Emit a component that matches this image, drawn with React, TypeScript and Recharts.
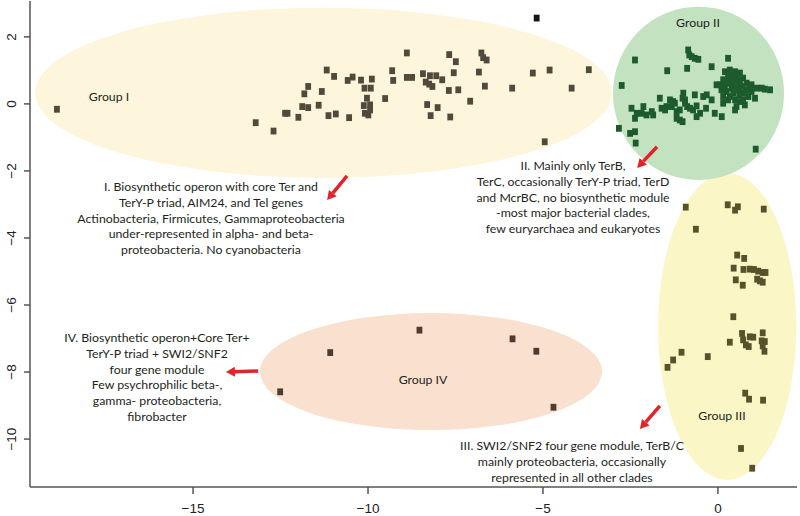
import { ScatterChart, Scatter, XAxis, YAxis, ReferenceArea, ReferenceLine } from 'recharts'

// point clouds (x, y)
const groupOne: [number, number][] = [
  [-18.89, -0.16], [-13.21, -0.56], [-12.7, -0.81], [-12.37, -0.28], [-12.3, -0.28], [-11.99, -0.4],
  [-11.82, 0.3], [-11.71, 0.52], [-11.88, -0.08], [-11.71, -0.11], [-11.41, -0.04], [-11.32, 0.37],
  [-11.18, 1.01], [-10.97, 0.82], [-11.13, -0.35], [-10.92, -0.3], [-10.58, 0.7], [-10.44, 0.8],
  [-10.54, -0.41], [-10.2, 0.71], [-10.1, 0.47], [-9.92, 0.47], [-9.89, 0.74], [-10.03, 0.17],
  [-10.12, -0.05], [-9.94, -0.03], [-10.09, -0.28], [-9.99, -0.33], [-9.94, -0.18], [-9.51, 0.16],
  [-9.31, 0.99], [-9.28, 0.7], [-8.89, 1.52], [-8.89, 0.79], [-8.74, 0.79], [-8.43, 0.9],
  [-8.23, 0.84], [-8.35, 0.65], [-8.25, 0.59], [-8.16, 0.52], [-8.05, 0.84], [-7.88, 0.72],
  [-7.68, 1.47], [-7.49, 1.26], [-7.55, 0.93], [-7.69, 0.4], [-7.42, 0.42], [-8.31, -0.02],
  [-8.01, -0.11], [-8.21, -0.35], [-7.65, -0.39], [-7.08, 0.08], [-6.76, 1.52], [-6.71, 1.38],
  [-6.61, 1.31], [-6.83, 0.95], [-6.66, 0.53], [-5.88, 0.47], [-5.29, 0.92], [-4.81, 1.01],
  [-4.18, 0.47], [-3.69, 1.02], [-4.95, -1.13],
]
const outlier: [number, number][] = [[-5.18, 2.56]]

const groupTwo: [number, number][] = [
  // dense core
  [0.2, 0.96], [0.34, 1.01], [0.49, 0.96], [0.63, 0.92], [0.06, 0.57], [0.15, 0.72], [0.29, 0.77],
  [0.44, 0.72], [0.58, 0.72], [0.72, 0.77], [0.82, 0.62], [0.96, 0.57], [1.11, 0.47], [1.25, 0.47],
  [1.34, 0.44], [1.49, 0.42], [0.25, 0.37], [0.39, 0.47], [0.53, 0.52], [0.68, 0.52], [0.82, 0.42],
  [0.96, 0.37], [1.06, 0.17], [0.34, 0.22], [0.49, 0.12], [0.63, 0.07], [0.77, -0.03], [0.53, -0.08],
  [0.49, -0.18], [0.15, 0.02], [0.15, 0.22], [-0.04, 0.57], [0.2, 0.52], [0.39, 0.62], [0.72, 0.32],
  [0.87, 0.22], [0.61, 0.27], [0.44, 0.87], [0.25, 0.62], [0.63, 0.62], [0.44, 0.32], [0.29, 0.12],
  [0.91, 0.47], [0.58, 0.42], [0.34, 0.87], [0.53, 0.82], [0.1, 0.42], [0.72, 0.12],
  // left arm
  [-1.66, 0.17], [-1.51, -0.18], [-1.37, 0.12], [-1.32, -0.08], [-1.23, 0.02], [-1.18, -0.23],
  [-1.09, -0.18], [-1.01, 0.17], [-0.99, 0.32], [-0.94, 0.02], [-0.88, -0.08], [-0.8, -0.13],
  [-0.71, -0.18], [-0.61, -0.06], [-0.51, -0.28], [-0.42, 0.22], [-0.32, 0.27], [-0.18, 0.12],
  [-0.34, -0.13], [-0.09, -0.28], [0.11, -0.38], [-0.61, -0.38], [-1.09, -0.48], [-1.01, -0.53],
  [-1.18, -0.43], [-2.13, -0.08], [-2.18, -0.28], [-2.04, -0.33], [-2.32, -0.28], [-2.37, -0.43],
  [-2.47, -0.13], [-1.85, -0.33], [-1.89, -0.23], [-1.61, -0.13], [-1.47, -0.08], [-0.66, 0.27],
  [-0.94, 0.12], [-1.28, 0.07],
  // scattered
  [-2.83, -0.73], [-2.51, -0.88], [-2.37, -0.83], [-2.35, -1.17], [1.08, -1.35], [-2.37, 1.31],
  [-2.75, 0.55], [-1.45, 0.99], [-0.88, 1.06], [-0.85, 1.61], [-0.82, 1.46], [-0.75, 1.41],
  [-0.66, 1.36], [-0.56, 1.33], [-0.18, 1.11], [0.29, 1.36],
]

const groupThree: [number, number][] = [
  [-0.92, -3.08], [0.28, -3.01], [0.49, -3.17], [0.57, -3.07], [1.31, -3.14], [-0.63, -3.74],
  [0.55, -4.51], [0.75, -4.61], [0.45, -4.9], [0.73, -4.94], [0.91, -4.93], [1.03, -4.94],
  [1.15, -4.99], [1.28, -5.03], [1.36, -5.03], [0.51, -5.25], [0.71, -5.41], [1.12, -5.23],
  [1.2, -5.28], [1.28, -5.32], [0.44, -6.35], [0.34, -7.11], [0.69, -6.85], [0.72, -7.04],
  [0.8, -7.19], [0.88, -7.24], [0.91, -6.95], [1.01, -6.96], [1.28, -6.83], [1.25, -7.07],
  [1.34, -7.09], [1.33, -7.38], [1.28, -7.22], [-1.04, -7.41], [-1.28, -7.64], [-1.44, -7.86],
  [-0.29, -7.54], [0.78, -8.63], [0.89, -8.81], [1.29, -8.84], [0.66, -10.28], [0.98, -10.87],
]

const groupFour: [number, number][] = [
  [-12.51, -8.59], [-11.08, -7.42], [-8.53, -6.75], [-5.87, -7.01], [-5.19, -7.38], [-4.7, -9.05],
]

// ellipses: [x1, x2, y1, y2, fill]
const ellipses: [number, number, number, number, string][] = [
  [-19.51, -3.03, -2.21, 2.87, '#fdf6dc'],
  [-1.71, 2.24, -11.22, -2.06, '#faf6c6'],
  [-13.09, -3.31, -9.73, -6.24, '#fae0cf'],
  [-3.0, 1.89, -2.27, 2.9, '#c2e2c0'],
]

// arrows: from -> to
const arrows: [number, number, number, number][] = [
  [-10.6, -2.15, -11.17, -2.87],
  [-1.74, -1.28, -2.31, -1.91],
  [-13.14, -7.97, -14.06, -8.0],
  [-1.66, -9.01, -2.23, -9.7],
]

const xTicks = [-15, -10, -5, 0]
const yTicks = [2, 0, -2, -4, -6, -8, -10]

const notes = [
  { left: 211, top: 179, lines: ['I. Biosynthetic operon with core Ter and', 'TerY-P triad, AIM24, and Tel genes', 'Actinobacteria, Firmicutes, Gammaproteobacteria', 'under-represented in alpha- and beta-', 'proteobacteria. No cyanobacteria'] },
  { left: 573, top: 158, lines: ['II. Mainly only TerB,', 'TerC, occasionally TerY-P triad, TerD', 'and McrBC, no biosynthetic module', '-most major bacterial clades,', 'few euryarchaea and eukaryotes'] },
  { left: 157, top: 330, lines: ['IV. Biosynthetic operon+Core Ter+', 'TerY-P triad + SWI2/SNF2', 'four gene module', 'Few psychrophilic beta-,', 'gamma- proteobacteria,', 'fibrobacter'] },
  { left: 572, top: 438, lines: ['III. SWI2/SNF2 four gene module, TerB/C', 'mainly proteobacteria, occasionally', 'represented in all other clades'] },
  { left: 109, top: 89, lines: ['Group I'] },
  { left: 698, top: 15, lines: ['Group II'] },
  { left: 722, top: 408, lines: ['Group III'] },
  { left: 423, top: 372, lines: ['Group IV'] },
]

const toPts = (a: [number, number][]) => a.map(([x, y]) => ({ x, y }))
const minus = (v: number) => String(v).replace('-', '\u2212')

function Square({ cx, cy, fill }: any) {
  return <rect x={cx - 2.9} y={cy - 3.4} width={5.8} height={6.8} fill={fill} />
}

function Ellipse({ x, y, width, height, fill }: any) {
  return <ellipse cx={x + width / 2} cy={y + height / 2} rx={width / 2} ry={height / 2} fill={fill} />
}

function Arrow({ x1, y1, x2, y2 }: any) {
  const ang = Math.atan2(y2 - y1, x2 - x1)
  const len = 9
  const bx = x2 - len * Math.cos(ang)
  const by = y2 - len * Math.sin(ang)
  const w = 5
  const p1 = `${bx + w * Math.sin(ang)},${by - w * Math.cos(ang)}`
  const p2 = `${bx - w * Math.sin(ang)},${by + w * Math.cos(ang)}`
  return (
    <g>
      <line x1={x1} y1={y1} x2={bx} y2={by} stroke="#e3232a" strokeWidth={3.5} />
      <polygon points={`${x2},${y2} ${p1} ${p2}`} fill="#e3232a" />
    </g>
  )
}

function YTick({ y, payload }: any) {
  return (
    <text x={16} y={y} transform={`rotate(-90, 16, ${y})`} textAnchor="middle" fontSize={13.5} fill="#222" fontFamily="Liberation Sans">
      {minus(payload.value)}
    </text>
  )
}

export default function App() {
  return (
    <div style={{ position: 'absolute', left: 0, top: 0, width: 800, height: 516, background: '#fff' }}>
      <ScatterChart width={800} height={516} margin={{ top: 1, right: 3, bottom: 0, left: 0 }}>
        <XAxis
          type="number"
          dataKey="x"
          domain={[-19.66, 2.26]}
          allowDataOverflow
          ticks={xTicks}
          tickFormatter={minus}
          height={29}
          tickSize={7}
          tickMargin={9}
          stroke="#555"
          strokeWidth={1.5}
          tick={{ fontSize: 13.5, fill: '#222', fontFamily: 'Liberation Sans' }}
        />
        <YAxis
          type="number"
          dataKey="y"
          domain={[-11.43, 3.07]}
          allowDataOverflow
          ticks={yTicks}
          width={30}
          tickSize={6}
          stroke="#555"
          strokeWidth={1.5}
          tick={<YTick />}
        />
        {ellipses.map(([x1, x2, y1, y2, fill], i) => (
          <ReferenceArea key={i} x1={x1} x2={x2} y1={y1} y2={y2} fill={fill} ifOverflow="visible" shape={<Ellipse />} />
        ))}
        <ReferenceArea fill="none" stroke="#555" strokeWidth={1.5} fillOpacity={0} />
        <Scatter data={toPts(groupOne)} fill="#4f4a3c" shape={<Square />} isAnimationActive={false} />
        <Scatter data={toPts(outlier)} fill="#151515" shape={<Square />} isAnimationActive={false} />
        <Scatter data={toPts(groupTwo)} fill="#1d5b2d" shape={<Square />} isAnimationActive={false} />
        <Scatter data={toPts(groupThree)} fill="#57522b" shape={<Square />} isAnimationActive={false} />
        <Scatter data={toPts(groupFour)} fill="#4e3c30" shape={<Square />} isAnimationActive={false} />
        {arrows.map(([ax, ay, bx, by], i) => (
          <ReferenceLine key={i} segment={[{ x: ax, y: ay }, { x: bx, y: by }]} ifOverflow="visible" shape={<Arrow />} />
        ))}
      </ScatterChart>
      {notes.map((n, i) => (
        <div
          key={i}
          style={{
            position: 'absolute',
            left: n.left,
            top: n.top,
            transform: 'translateX(-50%)',
            textAlign: 'center',
            whiteSpace: 'nowrap',
            fontFamily: 'Lato, sans-serif',
            fontSize: 12.3,
            lineHeight: '15.8px',
            color: '#231f20',
          }}
        >
          {n.lines.map((l, j) => (
            <div key={j}>{l}</div>
          ))}
        </div>
      ))}
    </div>
  )
}
